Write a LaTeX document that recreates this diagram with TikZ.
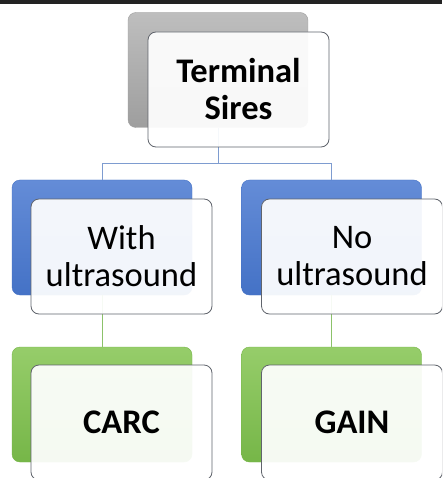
\documentclass[tikz,border=0pt]{standalone}
\usepackage{fontspec}
\setmainfont{Carlito}
\usetikzlibrary{positioning,calc}
\definecolor{barblack}{RGB}{35,35,35}
\definecolor{boxgray}{RGB}{158,158,158}
\definecolor{boxgraylt}{RGB}{190,190,190}
\definecolor{boxblue}{RGB}{68,114,198}
\definecolor{boxbluelt}{RGB}{100,140,215}
\definecolor{boxgreen}{RGB}{118,182,72}
\definecolor{boxgreenlt}{RGB}{150,205,106}
\definecolor{linkblue}{RGB}{126,156,208}
\definecolor{linkgreen}{RGB}{140,194,106}
\definecolor{edgegray}{RGB}{96,100,108}
\tikzset{
  backbox/.style={rounded corners=8pt, minimum width=180pt, minimum height=115pt, inner sep=0pt},
  frontbox/.style={draw=edgegray, line width=0.8pt, rounded corners=8pt, minimum width=181pt,
    minimum height=115pt, inner sep=0pt, fill=white, fill opacity=0.93, text opacity=1,
    align=center, font=\fontsize{34.5}{37}\selectfont},
}
\begin{document}
\begin{tikzpicture}[x=1pt,y=-1pt]
\clip (0,0) rectangle (442,478);
\fill[white] (0,0) rectangle (442,478);
\fill[barblack] (0,0) rectangle (442,4.5);
% back boxes
\node (sireback) [backbox, top color=boxgraylt, bottom color=boxgray, draw=boxgray] at (218,70) {};
\node (withback) [backbox, top color=boxbluelt, bottom color=boxblue, draw=boxblue] at (102,237.5) {};
\node (noback) [backbox, top color=boxbluelt, bottom color=boxblue, draw=boxblue] at (331.5,237.5) {};
\node (carcback) [backbox, top color=boxgreenlt, bottom color=boxgreen, draw=boxgreen] at (102,404.5) {};
\node (gainback) [backbox, top color=boxgreenlt, bottom color=boxgreen, draw=boxgreen] at (331.5,404.5) {};
% connectors
\coordinate (bus) at (218,163);
\draw[linkblue, line width=0.8pt] (sireback.south) -- (bus) -| (withback.north);
\draw[linkblue, line width=0.8pt] (bus) -| (noback.north);
\draw[linkgreen, line width=0.8pt] (withback.south) -- (carcback.north);
\draw[linkgreen, line width=0.8pt] (noback.south) -- (gainback.north);
% front boxes
\node (sire) [frontbox] at ($(sireback)+(20.5,19.5)$) {\bfseries Terminal\\\bfseries Sires};
\node (with) [frontbox] at ($(withback)+(19.5,19)$) {With\\ultrasound};
\node (no) [frontbox] at ($(noback)+(20.5,19)$) {No\\ultrasound};
\node (carc) [frontbox] at ($(carcback)+(19.5,18)$) {\bfseries CARC};
\node (gain) [frontbox] at ($(gainback)+(20.5,18)$) {\bfseries GAIN};
\end{tikzpicture}
\end{document}
